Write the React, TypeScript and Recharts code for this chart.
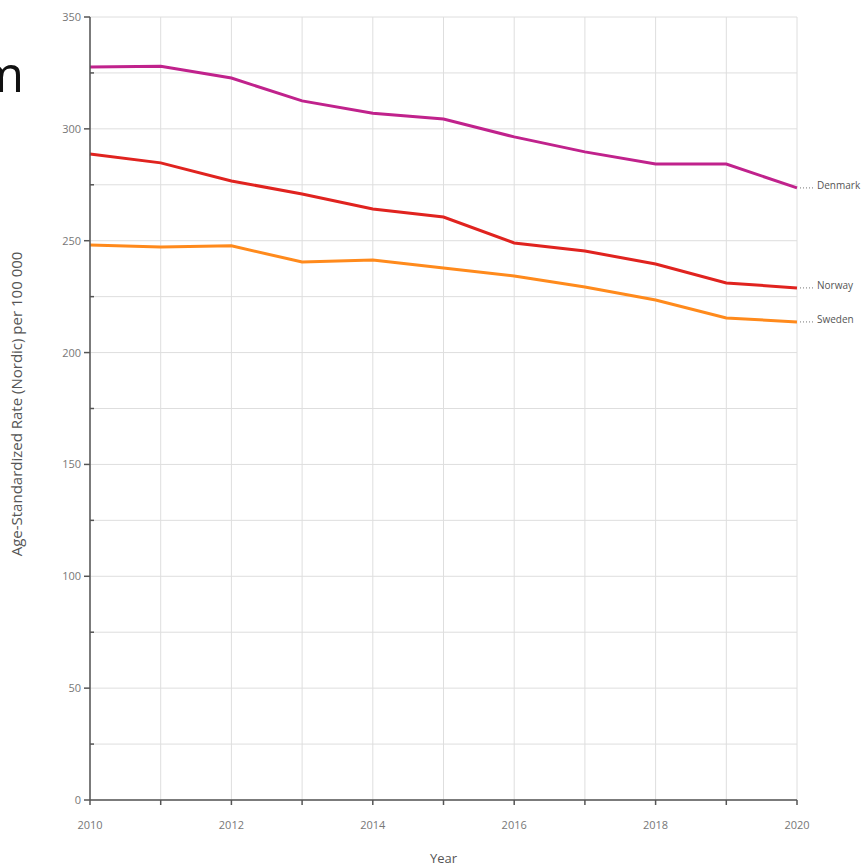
import { CartesianGrid, Label, Line, LineChart, XAxis, YAxis } from "recharts";

const years = [2010, 2011, 2012, 2013, 2014, 2015, 2016, 2017, 2018, 2019, 2020];
const denmark = [327.7, 328, 322.7, 312.5, 307, 304.4, 296.4, 289.7, 284.3, 284.3, 273.6];
const norway = [288.8, 284.8, 276.7, 270.9, 264.2, 260.6, 249, 245.4, 239.6, 231.1, 228.9];
const sweden = [248.1, 247.2, 247.7, 240.5, 241.4, 237.8, 234.2, 229.3, 223.5, 215.5, 213.7];
const yTicks = [0, 25, 50, 75, 100, 125, 150, 175, 200, 225, 250, 275, 300, 325, 350];

const data = years.map((year, i) => ({
  year,
  Denmark: denmark[i],
  Norway: norway[i],
  Sweden: sweden[i],
}));

const font = "'Open Sans', 'Noto Sans', sans-serif";
const axisColor = "#555";

function YTick(props: any) {
  const { x, y, payload } = props;
  const major = payload.value % 50 === 0;
  if (!major) {
    return <line x1={x} x2={x + 4} y1={y} y2={y} stroke={axisColor} strokeWidth={1.5} />;
  }
  return (
    <g>
      <line x1={x - 6} x2={x} y1={y} y2={y} stroke={axisColor} strokeWidth={1.5} />
      <text x={x - 9} y={y} dy={4} textAnchor="end" fontSize={11} fill="#777" fontFamily={font}>
        {payload.value}
      </text>
    </g>
  );
}

function XTick(props: any) {
  const { x, y, payload } = props;
  return (
    <g>
      <line x1={x} x2={x} y1={y} y2={y + 5} stroke={axisColor} strokeWidth={1.5} />
      {payload.value % 2 === 0 && (
        <text x={x} y={y + 29} textAnchor="middle" fontSize={11} fill="#777" fontFamily={font}>
          {payload.value}
        </text>
      )}
    </g>
  );
}

const endLabel = (name: string) => (props: any) => {
  const { x, y, index } = props;
  if (index !== years.length - 1) return null;
  return (
    <g>
      <line x1={x + 3} x2={x + 18} y1={y} y2={y} stroke="#777" strokeWidth={1} strokeDasharray="1 2" />
      <text x={x + 20} y={y} dy={1} fontSize={10} fill="#555" fontFamily={font}>
        {name}
      </text>
    </g>
  );
};

export default function App() {
  return (
    <div style={{ position: "absolute", left: 0, top: 0, width: 863, height: 867, background: "#fff" }}>
      <svg width={60} height={120} style={{ position: "absolute", left: 0, top: 0 }}>
        <text x={24} y={92} textAnchor="end" fontSize={50} fill="#111" fontFamily={font}>
          m
        </text>
      </svg>
      <LineChart
        width={863}
        height={867}
        data={data}
        margin={{ top: 17, right: 66, left: 0, bottom: 4 }}
        style={{ position: "absolute", left: 0, top: 0 }}
      >
        <CartesianGrid stroke="#dedede" strokeWidth={1} />
        <XAxis
          dataKey="year"
          type="number"
          domain={[2010, 2020]}
          ticks={years}
          tickSize={0}
          tickMargin={0}
          tick={<XTick />}
          tickLine={false}
          axisLine={{ stroke: axisColor, strokeWidth: 1.5 }}
          height={63}
        >
          <Label
            value="Year"
            position="insideBottom"
            offset={0}
            fontSize={13}
            fill="#555"
            fontFamily={font}
          />
        </XAxis>
        <YAxis
          type="number"
          domain={[0, 350]}
          ticks={yTicks}
          tickSize={0}
          tickMargin={0}
          tick={<YTick />}
          tickLine={false}
          axisLine={{ stroke: axisColor, strokeWidth: 1.5 }}
          width={90}
        >
          <Label
            content={() => (
              <text
                x={22}
                y={404}
                transform="rotate(-90 22 404)"
                textAnchor="middle"
                fontSize={15}
                fill="#555"
                fontFamily={font}
              >
                Age-Standardized Rate (Nordic) per 100 000
              </text>
            )}
          />
        </YAxis>
        <Line
          dataKey="Denmark"
          stroke="#c0228c"
          strokeWidth={3}
          dot={false}
          type="linear"
          isAnimationActive={false}
          label={endLabel("Denmark")}
        />
        <Line
          dataKey="Norway"
          stroke="#e0231f"
          strokeWidth={3}
          dot={false}
          type="linear"
          isAnimationActive={false}
          label={endLabel("Norway")}
        />
        <Line
          dataKey="Sweden"
          stroke="#ff8a1c"
          strokeWidth={3}
          dot={false}
          type="linear"
          isAnimationActive={false}
          label={endLabel("Sweden")}
        />
      </LineChart>
    </div>
  );
}
